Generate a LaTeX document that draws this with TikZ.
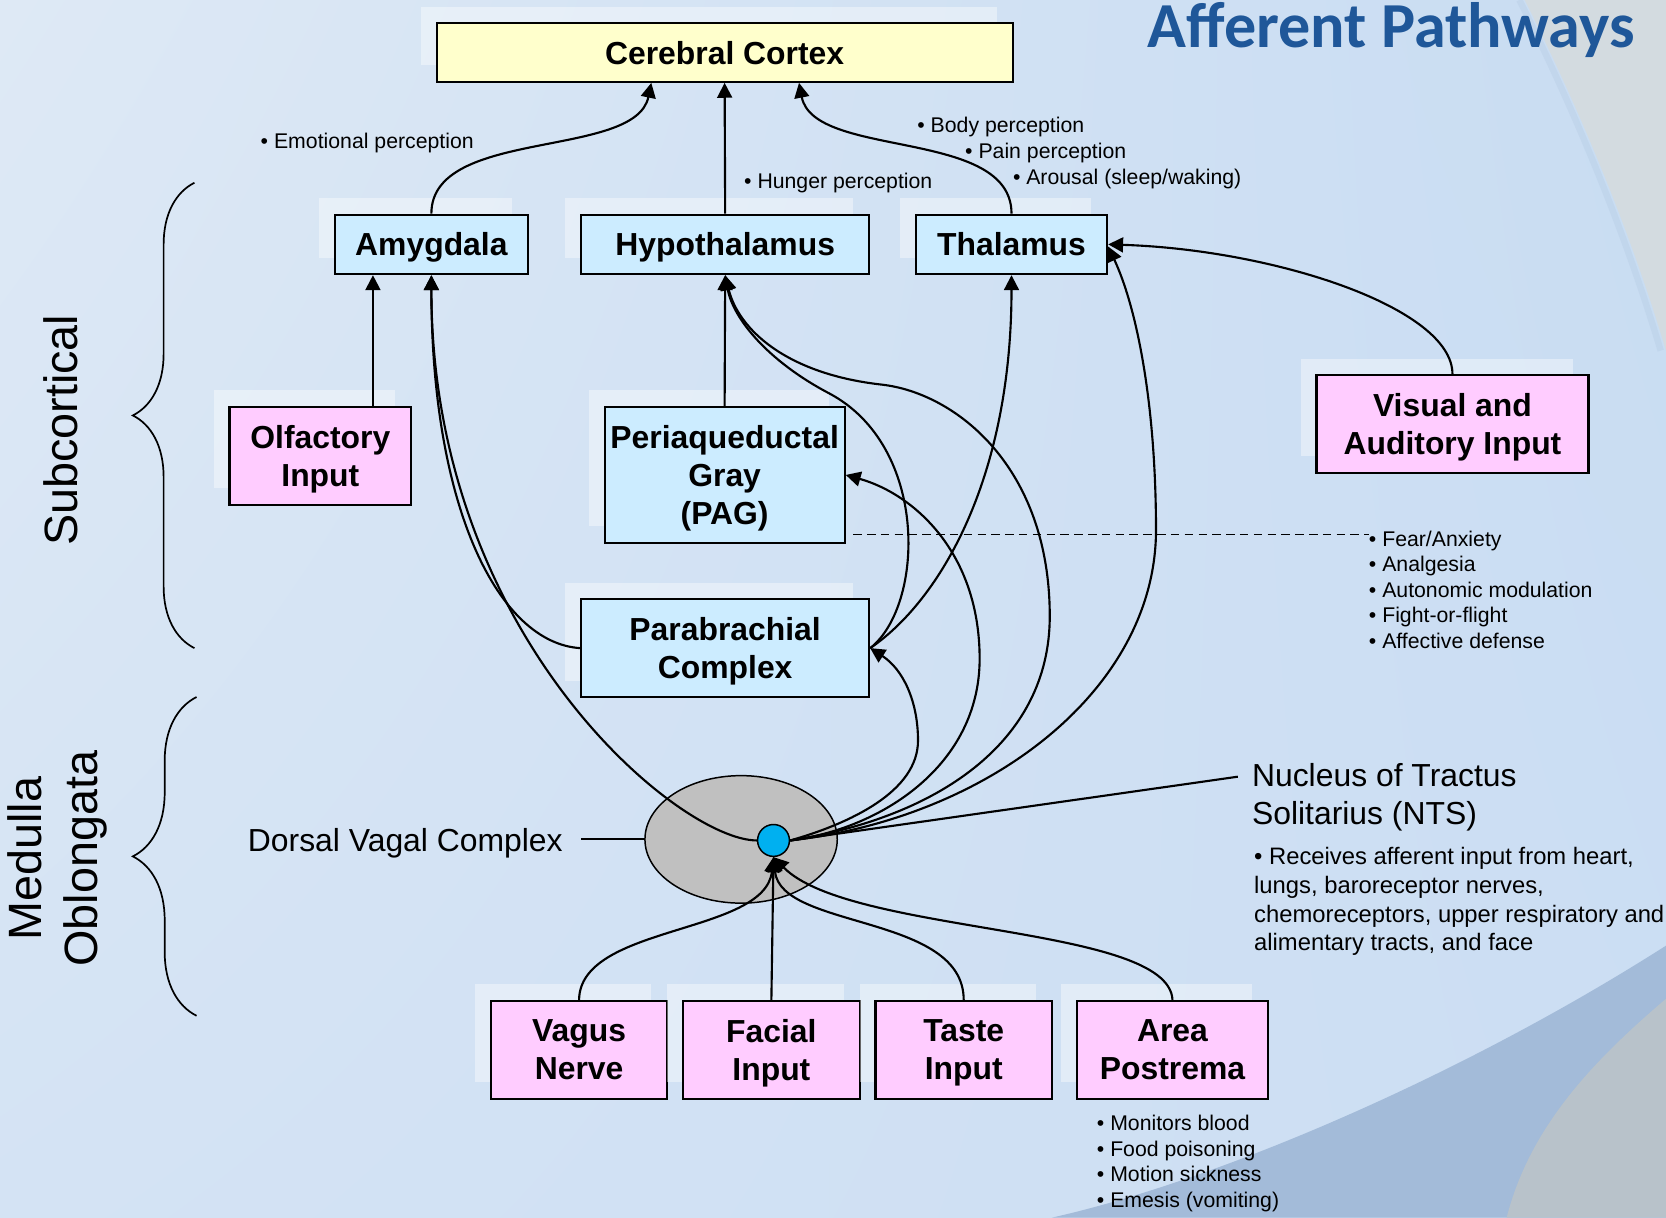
\documentclass[tikz,border=0pt]{standalone}
\usepackage{fontspec}
\setmainfont{Liberation Sans}
\newfontfamily\titlefont{Carlito}
\usetikzlibrary{arrows.meta,shapes.geometric,shadows,shadings,decorations.pathreplacing}
\definecolor{boxblue}{HTML}{CCECFF}
\definecolor{boxpink}{HTML}{FFCCFF}
\definecolor{boxyellow}{HTML}{FFFFCC}
\definecolor{dvcgray}{HTML}{C0C0C0}
\definecolor{ntsblue}{HTML}{00B0F0}
\definecolor{titleblue}{HTML}{1F5799}
\definecolor{bgUL}{HTML}{DEE9F5}
\definecolor{bgUR}{HTML}{C8DCF2}
\definecolor{bgLL}{HTML}{D4E3F4}
\definecolor{bgLR}{HTML}{CCDEF3}
\definecolor{grayR}{HTML}{D3DBE0}
\definecolor{grayB}{HTML}{B8C2CA}
\definecolor{bandblue}{HTML}{A3BBD9}
\definecolor{edgeblue}{HTML}{B4C9E3}
\begin{document}
\begin{tikzpicture}[x=0.5pt,y=-0.5pt,
  box/.style={draw=black, line width=1pt, align=center, inner sep=0pt, text depth=0pt,
    font=\bfseries\fontsize{15pt}{18pt}\selectfont,
    general shadow={draw=none, fill=white, fill opacity=0.4, shadow xshift=-7.5pt, shadow yshift=7.75pt}},
  bluebox/.style={box, fill=boxblue},
  pinkbox/.style={box, fill=boxpink},
  arr/.style={line width=1pt, -{Triangle[length=7pt,width=7pt]}},
  conn/.style={line width=1pt},
  dashline/.style={line width=0.7pt, dash pattern=on 4pt off 2.5pt},
  note/.style={inner sep=0pt, anchor=base west, align=left, font=\fontsize{10pt}{12pt}\selectfont},
  bigtext/.style={inner sep=0pt, font=\fontsize{15pt}{18pt}\selectfont},
  sidelabel/.style={inner sep=0pt, rotate=90, align=center, font=\fontsize{22pt}{26pt}\selectfont},
  bracket/.style={line width=0.8pt, decorate}
]
\useasboundingbox (0,0) rectangle (1568,1146);
% background
\shade[upper left=bgUL, upper right=bgUR, lower left=bgLL, lower right=bgLR] (0,0) rectangle (1568,1146);
\fill[grayR] (1435,0) .. controls (1490,110) and (1535,220) .. (1568,330) -- (1568,0) -- cycle;
\draw[edgeblue, line width=3pt, opacity=0.35] (1430,0) .. controls (1485,110) and (1530,220) .. (1563,330);
\fill[bandblue] (990,1146) .. controls (1150,1110) and (1380,1010) .. (1568,890) -- (1568,1146) -- cycle;
\fill[grayB] (1568,940) .. controls (1500,998) and (1440,1060) .. (1418,1146) -- (1568,1146) -- cycle;

% title
\node[anchor=base west, inner sep=0pt, text=titleblue, font=\titlefont\bfseries\fontsize{30.2pt}{34pt}\selectfont] (title) at (1080,45) {Afferent Pathways};

% boxes
\node[box, fill=boxyellow, minimum width=271pt, minimum height=27.5pt] (cortex) at (682,49.5) {Cerebral Cortex};
\node[bluebox, minimum width=91pt, minimum height=28pt] (amy) at (406,230) {Amygdala};
\node[bluebox, minimum width=135.5pt, minimum height=28pt] (hypo) at (682.5,230) {Hypothalamus};
\node[bluebox, minimum width=90pt, minimum height=28pt] (thal) at (952,230) {Thalamus};
\node[pinkbox, minimum width=85.5pt, minimum height=46pt] (olf) at (301.5,429) {Olfactory\\Input};
\node[bluebox, minimum width=113pt, minimum height=64pt] (pag) at (682,447) {Periaqueductal\\Gray\\(PAG)};
\node[pinkbox, minimum width=128pt, minimum height=46pt] (vis) at (1367,399) {Visual and\\Auditory Input};
\node[bluebox, minimum width=135.5pt, minimum height=46pt] (pb) at (682.5,610) {Parabrachial\\Complex};
\node[pinkbox, minimum width=83pt, minimum height=46pt] (vagus) at (545,988) {Vagus\\Nerve};
\node[pinkbox, minimum width=83pt, minimum height=46pt] (facial) at (726,988) {Facial\\Input};
\node[pinkbox, minimum width=83pt, minimum height=46pt] (taste) at (907,988) {Taste\\Input};
\node[pinkbox, minimum width=89.5pt, minimum height=46pt] (ap) at (1103.5,988) {Area\\Postrema};

% dorsal vagal complex and NTS
\node[ellipse, draw, line width=0.7pt, fill=dvcgray, minimum width=90.5pt, minimum height=60pt, inner sep=0pt] (dvc) at (697.5,790) {};
\node[circle, draw, line width=0.7pt, fill=ntsblue, minimum size=15pt, inner sep=0pt] (nts) at (728,791) {};

% annotations (multi-line nodes are anchored at the baseline of their last line)
\node[note] (emo) at (245,140) {• Emotional perception};
\node[note] (hun) at (700,177) {• Hunger perception};
\node[note] (body) at (863,125) {• Body perception};
\node[note] (pain) at (908,149) {• Pain perception};
\node[note] (arou) at (953,174) {• Arousal (sleep/waking)};
\node[note] (pagl) at (1288,610) {• Fear/Anxiety\\• Analgesia\\• Autonomic modulation\\• Fight-or-flight\\• Affective defense};
\node[note] (apl) at (1032,1136) {• Monitors blood\\• Food poisoning\\• Motion sickness\\• Emesis (vomiting)};
\node[bigtext, anchor=base west, align=left] (ntsl) at (1178,776) {Nucleus of Tractus\\Solitarius (NTS)};
\node[inner sep=0pt, anchor=base west, align=left, font=\fontsize{11.2pt}{13.5pt}\selectfont] (ntsd) at (1180,895) {• Receives afferent input from heart,\\lungs, baroreceptor nerves,\\chemoreceptors, upper respiratory and\\alimentary tracts, and face};
\node[bigtext, anchor=base east] (dvcl) at (530,801) {Dorsal Vagal Complex};
\node[sidelabel] (subc) at (57,405) {Subcortical};
\node[sidelabel] (med) at (54,808) {Medulla\\Oblongata};

% braces
\draw[bracket, decoration={brace, amplitude=29pt}] (183,610) -- (183,172);
\draw[bracket, decoration={brace, amplitude=30pt}] (185,956) -- (185,656);

% helper coordinates
\coordinate (ntsc) at (1165,731);
\coordinate (dashS) at (803,503);
\coordinate (dashE) at (1288,503);
\path (dvcl.east) ++(8.5pt,0) coordinate (dvcA);

% connectors to cortex
\draw[arr] (amy.north) .. controls (406,120) and (598,150) .. ([xshift=-34.5pt]cortex.south);
\draw[arr] (hypo.north) -- (cortex.south);
\draw[arr] (thal.north) .. controls (952,120) and (766,150) .. ([xshift=35pt]cortex.south);

% subcortical connectors
\draw[arr] ([xshift=24.75pt]olf.north) -- ([xshift=-27.5pt]amy.south);
\draw[arr] (pag.north) -- (hypo.south);
\draw[arr] (pb.west) .. controls (470,605) and (406,480) .. (amy.south);
\draw[arr] (pb.east) .. controls (870,570) and (875,420) .. (780,370) .. controls (723,340) and (690,300) .. (hypo.south);
\draw[arr] (pb.east) .. controls (885,565) and (952,450) .. (thal.south);
\draw[arr] (vis.north) .. controls (1367,290) and (1200,235) .. (thal.east);

% from NTS
\draw[arr] (nts.west) .. controls (640,791) and (406,600) .. (amy.south);
\draw[arr] (nts.east) .. controls (800,775) and (864,745) .. (864,697) .. controls (864,660) and (850,630) .. (pb.east);
\draw[arr] (nts.east) .. controls (830,780) and (922,720) .. (922,620) .. controls (922,520) and (860,465) .. (pag.east);
\draw[arr] (nts.east) .. controls (880,770) and (988,700) .. (988,580) .. controls (988,440) and (900,370) .. (830,362) .. controls (740,352) and (695,310) .. (hypo.south);
\draw[arr] (nts.east) .. controls (930,770) and (1087,650) .. (1088,500) .. controls (1088,380) and (1070,290) .. ([yshift=-1pt]thal.east);
\draw[conn] (nts.east) -- (ntsc);
\draw[conn] (dvc.west) -- (dvcA |- dvc.west);
\draw[dashline] (dashS) -- (dashE);

% inputs to NTS
\draw[arr] (vagus.north) .. controls (546,870) and (720,880) .. (nts.south);
\draw[arr] (facial.north) -- (nts.south);
\draw[arr] (taste.north) .. controls (907,860) and (735,875) .. (nts.south);
\draw[arr] (ap.north) .. controls (1100,870) and (800,880) .. (nts.south);
\end{tikzpicture}
\end{document}
